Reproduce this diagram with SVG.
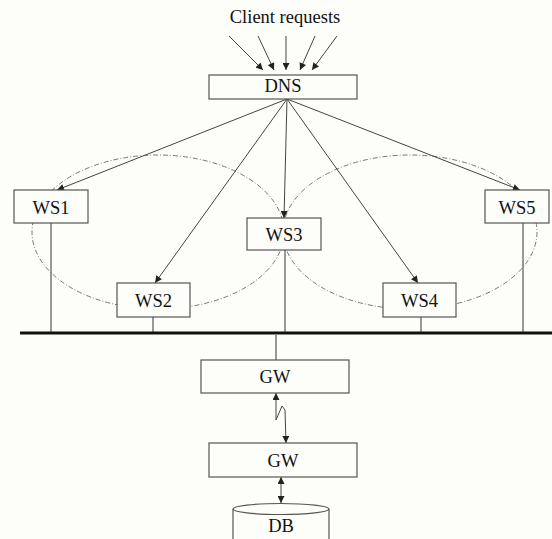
<svg xmlns="http://www.w3.org/2000/svg" width="552" height="539" viewBox="0 0 552 539">
<style>
.box{fill:#fdfdf9;stroke:#555;stroke-width:1.2}
.t{font-family:"Liberation Serif","Times New Roman",serif;font-size:18.5px;fill:#111;text-anchor:middle}
.c{fill:none;stroke:#444;stroke-width:1}
.ring{fill:none;stroke:#777;stroke-width:1;stroke-dasharray:5 2 1 2}
.drop{fill:none;stroke:#555;stroke-width:1.2}
</style>
<defs>
<marker id="ah" viewBox="0 0 10 10" refX="10" refY="5" markerWidth="8" markerHeight="7" markerUnits="userSpaceOnUse" orient="auto">
<path d="M0,0 L10,5 L0,10 z" fill="#222"/>
</marker>
<marker id="as" viewBox="0 0 10 10" refX="0" refY="5" markerWidth="8" markerHeight="7" markerUnits="userSpaceOnUse" orient="auto">
<path d="M10,0 L0,5 L10,10 z" fill="#222"/>
</marker>
</defs>
<rect width="552" height="539" fill="#fdfdf9"/>
<text class="t" x="285" y="23">Client requests</text>
<g id="rings">
<ellipse class="ring" cx="158" cy="232" rx="126" ry="77"/>
<ellipse class="ring" cx="410" cy="232" rx="127" ry="77"/>
</g>
<g id="connectors">
<line class="c" x1="229" y1="36" x2="263" y2="70" marker-end="url(#ah)"/>
<line class="c" x1="258" y1="36" x2="274" y2="70" marker-end="url(#ah)"/>
<line class="c" x1="286" y1="36" x2="286" y2="70" marker-end="url(#ah)"/>
<line class="c" x1="315" y1="36" x2="300" y2="70" marker-end="url(#ah)"/>
<line class="c" x1="337" y1="36" x2="312" y2="70" marker-end="url(#ah)"/>
<line class="c" x1="287" y1="99" x2="57" y2="190" marker-end="url(#ah)"/>
<line class="c" x1="287" y1="99" x2="155" y2="283" marker-end="url(#ah)"/>
<line class="c" x1="287" y1="99" x2="284" y2="218" marker-end="url(#ah)"/>
<line class="c" x1="287" y1="99" x2="418" y2="283" marker-end="url(#ah)"/>
<line class="c" x1="287" y1="99" x2="520" y2="190" marker-end="url(#ah)"/>
<line class="drop" x1="51" y1="223" x2="51" y2="333"/>
<line class="drop" x1="153" y1="317" x2="153" y2="333"/>
<line class="drop" x1="285" y1="250" x2="285" y2="333"/>
<line class="drop" x1="421" y1="317" x2="421" y2="333"/>
<line class="drop" x1="523" y1="223" x2="523" y2="333"/>
<line x1="20" y1="333" x2="552" y2="333" stroke="#111" stroke-width="3"/>
<line class="drop" x1="276" y1="335" x2="276" y2="360"/>
<polyline class="c" points="276,393 276,420 282,406 285,410 286,443" marker-start="url(#as)" marker-end="url(#ah)"/>
<line class="c" x1="281" y1="477" x2="281" y2="503" marker-start="url(#as)" marker-end="url(#ah)"/>
</g>
<g id="dns"><rect class="box" x="209" y="75" width="148" height="24"/><text class="t" x="283" y="92">DNS</text></g>
<g id="ws1"><rect class="box" x="14" y="190" width="74" height="33"/><text class="t" x="51" y="214">WS1</text></g>
<g id="ws2"><rect class="box" x="117" y="283" width="73" height="34"/><text class="t" x="153.5" y="307">WS2</text></g>
<g id="ws3"><rect class="box" x="247" y="218" width="74" height="32"/><text class="t" x="284" y="241">WS3</text></g>
<g id="ws4"><rect class="box" x="383" y="283" width="73" height="34"/><text class="t" x="419.5" y="307">WS4</text></g>
<g id="ws5"><rect class="box" x="485" y="190" width="64" height="33"/><text class="t" x="517" y="214">WS5</text></g>
<g id="gw1"><rect class="box" x="201" y="360" width="148" height="33"/><text class="t" x="275" y="383">GW</text></g>
<g id="gw2"><rect class="box" x="209" y="443" width="148" height="34"/><text class="t" x="283" y="467">GW</text></g>
<g id="db">
<path class="box" d="M233,509 L233,545 L329,545 L329,509"/>
<ellipse class="box" cx="281" cy="509" rx="48" ry="5.5"/>
<text class="t" x="281" y="532">DB</text>
</g>
</svg>
